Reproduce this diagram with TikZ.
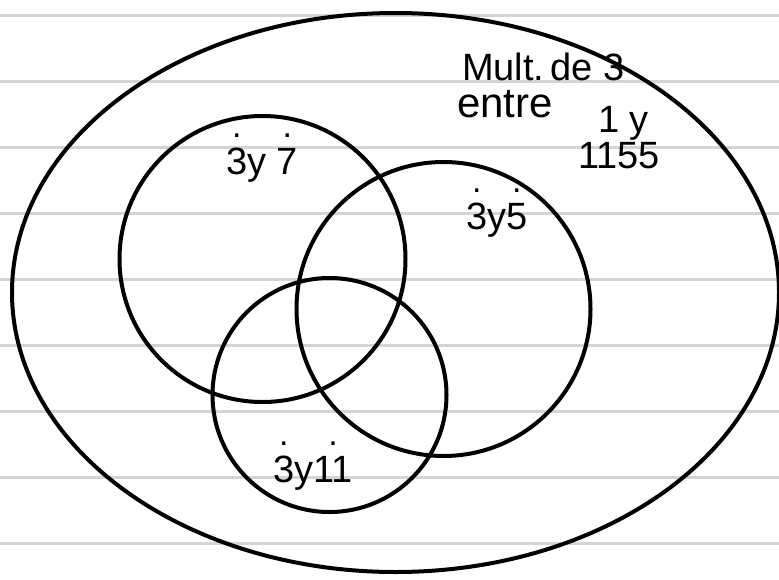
\documentclass[tikz,border=0pt]{standalone}
\usepackage{fontspec}
\setmainfont{Liberation Sans}
\usetikzlibrary{shapes.geometric}
\newcommand\mdot[1]{\ooalign{#1\cr\hidewidth\raisebox{0.95em}{\fontsize{34}{34}\selectfont.}\hidewidth\cr}}
\tikzset{
  ruled/.style={draw=black!17, line width=3pt},
  setline/.style={draw=black, line width=4pt, fill=none},
  setcircle/.style={setline, circle, inner sep=0pt},
  hand/.style={inner sep=0pt, font=\fontsize{38}{42}\selectfont},
}
\begin{document}
\begin{tikzpicture}[x=1pt,y=-1pt]
\useasboundingbox (0,0) rectangle (779,579);
\fill[white] (0,0) rectangle (779,579);
% ruled paper
\foreach \k in {0,...,8} {
  \coordinate (L\k) at (0,{15+66*\k});
  \coordinate (R\k) at (779,{15+66*\k});
  \draw[ruled] (L\k) -- (R\k);
}
% universal set
\node[setline, ellipse, inner sep=0pt, minimum width=767pt, minimum height=559pt] (U) at (395.5,292.5) {};
% sets
\node[setcircle, minimum size=286pt] (A) at (262.5,259) {};
\node[setcircle, minimum size=294pt] (B) at (443.5,309) {};
\node[setcircle, minimum size=234pt] (C) at (329.5,395) {};
% labels
\node[hand, anchor=base west] (t1) at (462,80) {Mult.\,de 3};
\node[hand, anchor=base west, font=\fontsize{42}{46}\selectfont] (t2) at (457,117) {entre};
\node[hand, anchor=base west] (t3) at (598,132) {1 y};
\node[hand, anchor=base west] (t4) at (578,168) {1155};
\node[hand, anchor=base west] (lA) at (226,174) {\mdot{3}y \mdot{7}};
\node[hand, anchor=base west] (lB) at (466,229) {\mdot{3}y\mdot{5}};
\node[hand, anchor=base west] (lC) at (273,482) {\mdot{3}y\mdot{11}};
\end{tikzpicture}
\end{document}
